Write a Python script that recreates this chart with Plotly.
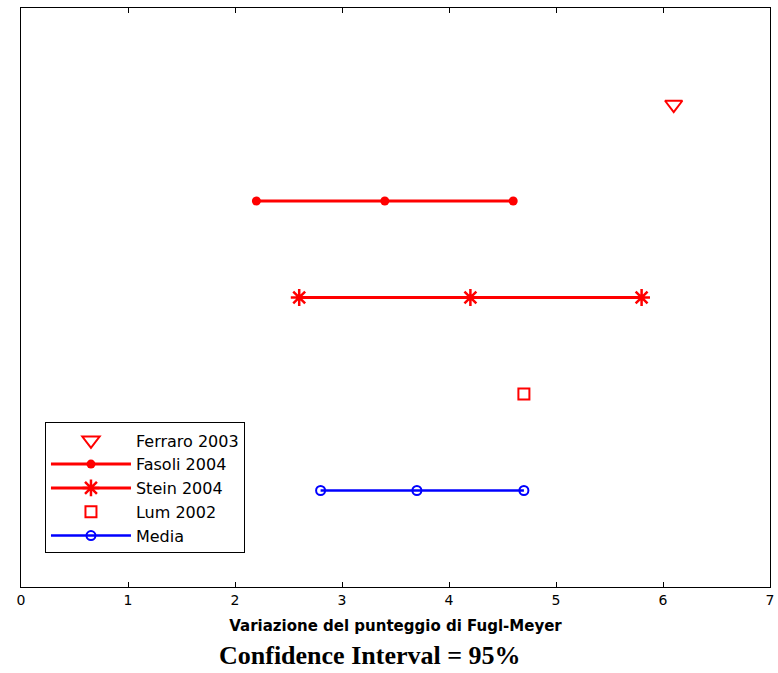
import plotly.graph_objects as go

# Data
studies = ["Ferraro 2003", "Fasoli 2004", "Stein 2004", "Lum 2002", "Media"]
rows = [5, 4, 3, 2, 1]
ferraro_x = [6.1]
fasoli_x = [2.2, 3.4, 4.6]
stein_x = [2.6, 4.2, 5.8]
lum_x = [4.7]
media_x = [2.8, 3.7, 4.7]
x_ticks = [0, 1, 2, 3, 4, 5, 6, 7]

RED = "#ff0000"
BLUE = "#0000ff"

fig = go.Figure()

fig.add_trace(go.Scatter(
    x=ferraro_x, y=[rows[0]] * len(ferraro_x), mode="markers", name=studies[0],
    marker=dict(symbol="triangle-down-open", size=15, color=RED, line=dict(width=2, color=RED))))
fig.add_trace(go.Scatter(
    x=fasoli_x, y=[rows[1]] * len(fasoli_x), mode="lines+markers", name=studies[1],
    line=dict(color=RED, width=3),
    marker=dict(symbol="circle", size=9, color=RED)))
fig.add_trace(go.Scatter(
    x=stein_x, y=[rows[2]] * len(stein_x), mode="lines+markers", name=studies[2],
    line=dict(color=RED, width=3),
    marker=dict(symbol="asterisk-open", size=14, color=RED, line=dict(width=2.5, color=RED))))
fig.add_trace(go.Scatter(
    x=lum_x, y=[rows[3]] * len(lum_x), mode="markers", name=studies[3],
    marker=dict(symbol="square-open", size=11, color=RED, line=dict(width=2, color=RED))))
fig.add_trace(go.Scatter(
    x=media_x, y=[rows[4]] * len(media_x), mode="lines+markers", name=studies[4],
    line=dict(color=BLUE, width=2.5),
    marker=dict(symbol="circle-open", size=9, color=BLUE, line=dict(width=2, color=BLUE))))

fig.update_layout(
    width=778, height=673,
    margin=dict(l=21, r=8, t=8, b=86),
    paper_bgcolor="white", plot_bgcolor="white",
    font=dict(family="DejaVu Sans, sans-serif", size=14, color="black"),
    showlegend=True,
    legend=dict(
        x=0.032, y=0.058, xanchor="left", yanchor="bottom",
        bgcolor="white", bordercolor="black", borderwidth=1,
        font=dict(family="DejaVu Sans, sans-serif", size=16, color="black"),
        itemwidth=80, tracegroupgap=0,
    ),
    xaxis=dict(
        range=[0, 7], tickvals=x_ticks, ticktext=[str(t) for t in x_ticks],
        ticks="inside", ticklen=5, tickcolor="black", tickwidth=1,
        showline=True, linecolor="black", linewidth=1, mirror="ticks",
        showgrid=False, zeroline=False, automargin=False,
        tickfont=dict(family="DejaVu Sans, sans-serif", size=14, color="black"),
        title=dict(text="<b>Variazione del punteggio di Fugl-Meyer</b>",
                   font=dict(family="DejaVu Sans, sans-serif", size=15, color="black"),
                   standoff=13),
    ),
    yaxis=dict(
        range=[0, 6], showticklabels=False, ticks="",
        showline=True, linecolor="black", linewidth=1, mirror=True,
        showgrid=False, zeroline=False, automargin=False,
    ),
    annotations=[dict(
        text="<b>Confidence Interval = 95%</b>", xref="paper", yref="paper",
        x=0.466, y=-0.119, xanchor="center", yanchor="middle", showarrow=False,
        font=dict(family="Liberation Serif, Times New Roman, serif", size=26, color="black"),
    )],
)

fig.write_html("out.html")
